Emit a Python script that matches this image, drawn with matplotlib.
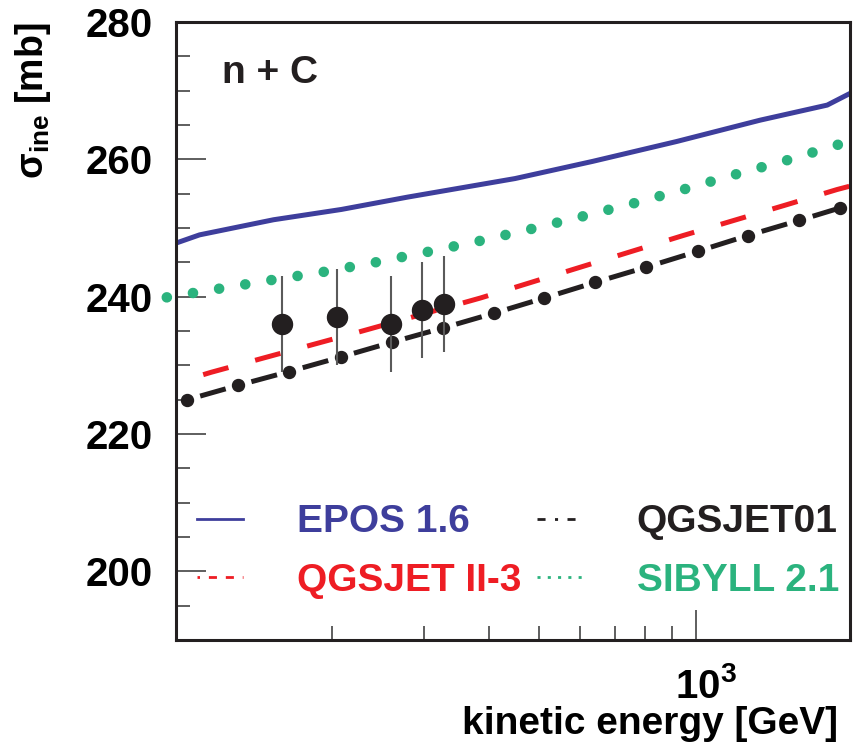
import matplotlib
matplotlib.use('Agg')
import matplotlib.pyplot as plt
import matplotlib.transforms as mtransforms
from matplotlib.lines import Line2D
from matplotlib.ticker import LogLocator, MultipleLocator, NullFormatter

plt.rcParams['font.family'] = ['Liberation Sans', 'DejaVu Sans']
plt.rcParams['font.weight'] = 'bold'
plt.rcParams['mathtext.fontset'] = 'custom'
plt.rcParams['mathtext.rm'] = 'Liberation Sans:bold'
plt.rcParams['mathtext.bf'] = 'Liberation Sans:bold'
plt.rcParams['mathtext.it'] = 'Liberation Sans:bold'

# model curves, kinetic energy [GeV] vs sigma_ine [mb]
epos_e = [100, 111, 154, 208, 279, 449, 633, 919, 1329, 1790, 1980]
epos_sig = [247.8, 249.0, 251.2, 252.7, 254.5, 257.2, 259.7, 262.6, 265.7, 267.9, 269.6]

sibyll_e = [96, 152, 192, 242, 304, 383, 482, 606, 760, 956, 1198, 1503, 1891, 1980]
sibyll_sig = [239.9, 242.4, 243.6, 245.0, 246.5, 248.1, 249.85, 251.7, 253.6, 255.7,
              257.85, 259.9, 262.2, 262.7]

qgsii_e = [100, 117, 221, 385, 606, 945, 1497, 1869, 1980]
qgsii_sig = [227.45, 229.0, 234.7, 239.8, 244.4, 248.9, 253.4, 255.6, 256.1]

qgs01_e = [104.9, 131.8, 165.1, 207.3, 259.8, 326.6, 409.3, 510.9, 641.2, 803.2,
           1007.6, 1258.3, 1578.7, 1890.5]
qgs01_sig = [224.97, 227.1, 229.1, 231.2, 233.35, 235.45, 237.6, 239.8, 242.1, 244.3,
             246.6, 248.9, 251.1, 252.9]

# measurements
data_e = [160, 204, 259, 298, 328]
data_sig = [236.0, 237.05, 236.0, 238.0, 238.9]
data_err = [7.0, 7.0, 7.0, 7.0, 7.0]

BLUE = '#3E3E9C'
RED = '#EE1D24'
GREEN = '#2BB37E'
BLACK = '#231F20'

fig = plt.figure(figsize=(8.56, 7.48), dpi=100)
ax = fig.add_axes([176 / 856, 1 - 640 / 748, 674 / 856, 618 / 748])

ax.plot(epos_e, epos_sig, color=BLUE, lw=3.6, solid_capstyle='butt')
ax.plot(sibyll_e, sibyll_sig, color=GREEN, lw=7.6,
        dashes=(0.01, 2.5), dash_capstyle='round', clip_on=False)
ax.plot(qgsii_e, qgsii_sig, color=RED, lw=3.6,
        linestyle=(5.1, (5.24, 5.54)), dash_capstyle='butt')
ax.plot(qgs01_e, qgs01_sig, color=BLACK, lw=3.6,
        linestyle=(7.86, (5.3, 5.34)), dash_capstyle='butt')
ax.plot(qgs01_e, qgs01_sig, linestyle='none', marker='o', ms=8.6,
        mfc=BLACK, mec=BLACK)

ax.errorbar(data_e, data_sig, yerr=data_err, fmt='o', ms=14.4, mfc=BLACK,
            mec=BLACK, ecolor='#5A5A5A', elinewidth=1.5, capsize=0, zorder=5)

ax.set_xscale('log')
ax.set_xlim(100, 1980)
ax.set_ylim(190, 280)

ax.set_xticks([1000])
ax.set_xticklabels([r'$\mathbf{10^{3}}$'])
ax.xaxis.set_minor_locator(LogLocator(base=10, subs=range(2, 10)))
ax.xaxis.set_minor_formatter(NullFormatter())
ax.set_yticks([200, 220, 240, 260, 280])
ax.yaxis.set_minor_locator(MultipleLocator(5))

ax.tick_params(which='both', direction='in', top=False, right=False,
               color='#333333', width=1.1)
ax.tick_params(which='major', length=21.6, labelsize=29)
ax.tick_params(which='minor', length=10.4)
ax.tick_params(axis='y', pad=17)
ax.tick_params(axis='x', pad=19.5)
for lab in ax.get_yticklabels():
    lab.set_fontweight('bold')

# ROOT puts the exponent label to the right of the tick
xlab = ax.xaxis.get_major_ticks()[0].label1
xlab.set_horizontalalignment('left')
xlab.set_transform(xlab.get_transform()
                   + mtransforms.ScaledTranslation(-21 / 100, 0, fig.dpi_scale_trans))

for sp in ax.spines.values():
    sp.set_linewidth(2.2)
    sp.set_color(BLACK)

ax.set_xlabel('kinetic energy [GeV]', fontsize=28, fontweight='bold', ha='right')
ax.xaxis.set_label_coords(0.982, -0.106)
ax.set_ylabel(r'σ$_{\mathbf{ine}}$ [mb]', fontsize=27, fontweight='bold', ha='right')
ax.yaxis.set_label_coords(-0.182, 1.0)

ax.text(0.068, 0.917, 'n + C', transform=ax.transAxes, fontsize=28,
        fontweight='bold', va='center', ha='left', color=BLACK)

handles = [
    Line2D([], [], color=BLUE, lw=2.0),
    Line2D([], [], color=RED, lw=2.0, linestyle=(2.0, (2.9, 3.2))),
    Line2D([], [], color=BLACK, lw=2.0, linestyle=(0, (2.9, 3.4, 1.1, 3.4))),
    Line2D([], [], color=GREEN, lw=2.0, linestyle=(0, (1.1, 2.6))),
]
labels = ['EPOS 1.6', 'QGSJET II-3', 'QGSJET01', 'SIBYLL 2.1']
leg = ax.legend(handles, labels, ncol=2, loc='center left',
                bbox_to_anchor=(0.031, 0.143), frameon=False, borderpad=0,
                borderaxespad=0, handlelength=1.18, handletextpad=1.39,
                columnspacing=0.4, labelspacing=0.58,
                prop={'size': 28, 'weight': 'bold'})
for txt, col in zip(leg.get_texts(), [BLUE, RED, BLACK, GREEN]):
    txt.set_color(col)

fig.savefig('out.png', dpi=100)
